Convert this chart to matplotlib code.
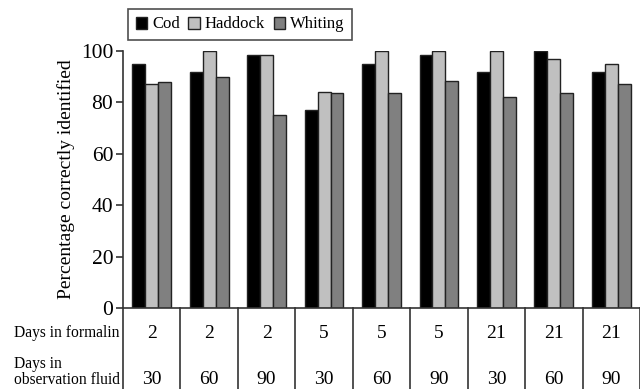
import numpy as np
import matplotlib
matplotlib.use("Agg")
import matplotlib.pyplot as plt
import matplotlib.transforms as mtransforms

plt.rcParams['font.family'] = ['Liberation Serif', 'DejaVu Serif']

species = ["Cod", "Haddock", "Whiting"]
formalin_days = ["2", "2", "2", "5", "5", "5", "21", "21", "21"]
fluid_days = ["30", "60", "90", "30", "60", "90", "30", "60", "90"]
cod = [95, 92, 98.3, 77, 95, 98.3, 92, 100, 92]
haddock = [87, 100, 98.3, 84, 100, 100, 100, 97, 95]
whiting = [88, 90, 75, 83.5, 83.5, 88.3, 82, 83.5, 87]
colors = ["#000000", "#c0c0c0", "#808080"]

fig = plt.figure(figsize=(6.4, 3.89), dpi=100)
ax = fig.add_axes([0.1922, 0.2082, 0.8078, 0.6607])

x = np.arange(len(cod))
w = 0.225
for i, (vals, name) in enumerate(zip([cod, haddock, whiting], species)):
    ax.bar(x + (i - 1) * w, vals, w, color=colors[i], edgecolor="#222222",
           linewidth=1, label=name)

ax.set_xlim(-0.5, len(cod) - 0.5)
ax.set_ylim(0, 100)
ax.set_yticks([0, 20, 40, 60, 80, 100])
ax.set_xticks([])
ax.spines['top'].set_visible(False)
ax.spines['right'].set_visible(False)
ax.spines['left'].set_color("#333333")
ax.spines['bottom'].set_color("#333333")
ax.spines['left'].set_linewidth(1.2)
ax.spines['bottom'].set_linewidth(1.2)
ax.tick_params(axis='y', direction='out', length=5, width=1.2, labelsize=15.5,
               color="#333333", pad=2)
ax.set_ylabel("Percentage correctly identified", fontsize=14, labelpad=4)

# table below the axis
trans = mtransforms.blended_transform_factory(ax.transData, fig.transFigure)
y0 = 0.2082
for b in np.arange(len(cod) + 1) - 0.5:
    ax.plot([b, b], [y0, 0], transform=trans, color="#333333", lw=1.2,
            clip_on=False)
for i in range(len(cod)):
    ax.text(i, 1 - 334 / 389, formalin_days[i], transform=trans, ha="center",
            va="center", fontsize=14)
    ax.text(i, 1 - 379 / 389, fluid_days[i], transform=trans, ha="center",
            va="center", fontsize=14)
fig.text(14 / 640, 1 - 333 / 389, "Days in formalin", ha="left", va="center",
         fontsize=11.2)
fig.text(14 / 640, 1 - 372 / 389, "Days in\nobservation fluid", ha="left",
         va="center", fontsize=11.2, linespacing=1.05)

leg = fig.legend(loc="upper left", bbox_to_anchor=(128 / 640, 1 - 9 / 389),
                 ncol=3, fontsize=12, frameon=True, fancybox=False,
                 handlelength=0.7, handleheight=0.7, handletextpad=0.3,
                 columnspacing=0.5, borderpad=0.45, borderaxespad=0)
leg.get_frame().set_edgecolor("#222222")
leg.get_frame().set_linewidth(1.2)

fig.savefig("out.png", dpi=100)
